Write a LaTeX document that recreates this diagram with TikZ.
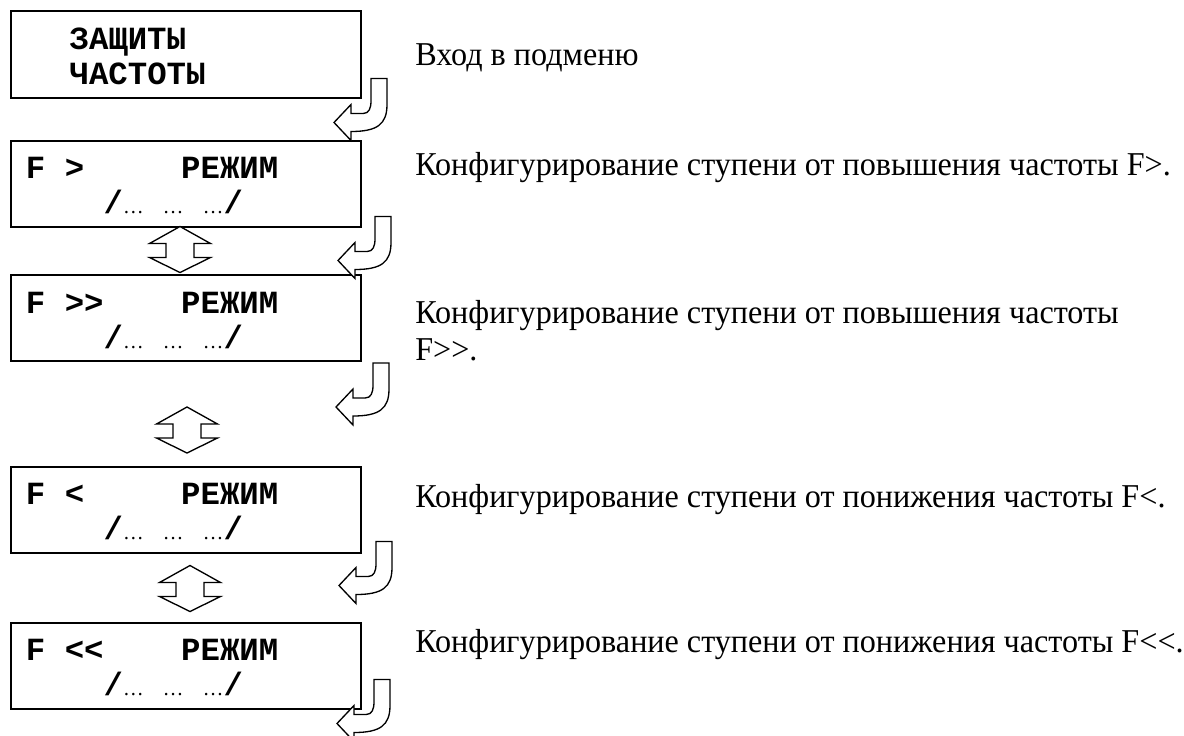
\documentclass[tikz,border=0pt]{standalone}
\usepackage{fontspec}
\setmainfont{Liberation Serif}[FakeStretch=0.965]
\setmonofont{Liberation Mono}
\usepackage{tikz}
\usetikzlibrary{calc}
\newcommand\elli{{\rmfamily\mdseries\fontsize{16pt}{16pt}\selectfont…}}
\newcommand\cells[1]{\hspace*{#1\dimexpr0.6em\relax}}

\begin{document}
\begin{tikzpicture}[x=0.75pt,y=-0.75pt,
  screen/.style={draw,line width=1.5pt,minimum width=262.5pt,minimum height=64.5pt,inner xsep=11pt,text width=240pt,text height=20pt,text depth=27.5pt,align=left,font=\ttfamily\bfseries\fontsize{24.25pt}{26.25pt}\selectfont},
  note/.style={anchor=base west,inner sep=0pt,align=left,font=\fontsize{25pt}{27.75pt}\selectfont},
  flow/.style={draw,fill=white,line width=1pt},
  jarrow/.pic={\draw[flow] (0,0) -- (16,0) -- (16,26) .. controls (16,46) and (6,53) .. (-20,53) -- (-20,62) -- (-37,44) -- (-20,26) -- (-20,35) -- (-8,35) .. controls (-2,35) and (0,30) .. (0,22) -- cycle;},
  updown/.pic={\draw[flow] (0,-23) -- (30.5,-6) -- (14,-6) -- (14,8) -- (30.5,8) -- (0,23) -- (-30.5,8) -- (-14,8) -- (-14,-6) -- (-30.5,-6) -- cycle;}
]
\useasboundingbox (0,0) rectangle (1184,735);

\node[screen] (m1) at (186,54.5) {\cells{2.25}ЗАЩИТЫ\\\cells{2.25}ЧАСТОТЫ};
\node[screen] (m2) at (186,183.5) {F\cells1>\cells5РЕЖИМ\\\cells4/\elli\cells1\elli\cells1\elli/};
\node[screen] (m3) at (186,318) {F\cells1>>\cells4РЕЖИМ\\\cells4/\elli\cells1\elli\cells1\elli/};
\node[screen] (m4) at (186,509.5) {F\cells1<\cells5РЕЖИМ\\\cells4/\elli\cells1\elli\cells1\elli/};
\node[screen] (m5) at (186,665.5) {F\cells1<<\cells4РЕЖИМ\\\cells4/\elli\cells1\elli\cells1\elli/};

\node[note] (t1) at (415,65) {Вход в подменю};
\node[note] (t2) at (415,175) {Конфигурирование ступени от повышения частоты F>.};
\node[note] (t3) at (415,360) {Конфигурирование ступени от повышения частоты\\F>{\kern0pt}>.};
\node[note] (t4) at (415,507) {Конфигурирование ступени от понижения частоты F<.};
\node[note] (t5) at (415,652) {Конфигурирование ступени от понижения частоты F<{\kern0pt}<.};

% next-item arrows
\pic at ($(m1.south east)+(9,-20)$) {jarrow};
\pic at ($(m2.south east)+(13,-11)$) {jarrow};
\pic at ($(m3.south east)+(11,1)$) {jarrow};
\pic at ($(m4.south east)+(14,-12)$) {jarrow};
\pic at ($(m5.south east)+(12,-30)$) {jarrow};

% up/down arrows
\pic at ($(m2.south)+(-6,22)$) {updown};
\pic at ($(m3.south)+(1,68)$) {updown};
\pic at ($(m4.south)+(4,35)$) {updown};
\end{tikzpicture}
\end{document}
